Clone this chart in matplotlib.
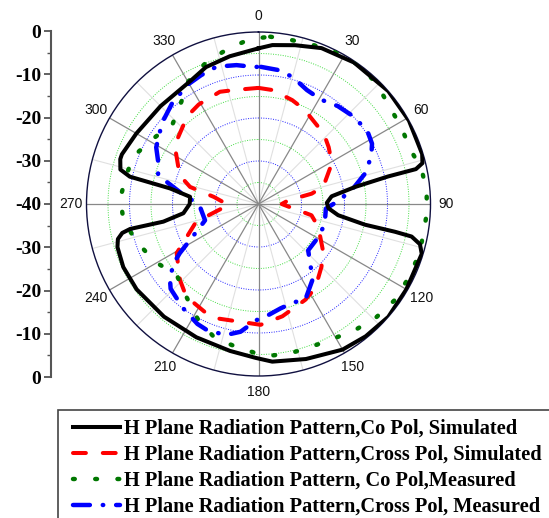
import numpy as np
import matplotlib
matplotlib.use("Agg")
import matplotlib.pyplot as plt
from matplotlib.patches import Rectangle

# ---------------- data (angle in degrees, level in dB) ----------------
co_sim_ang = [0, 5, 13, 22, 34, 49, 61, 73, 76, 77.5, 78, 80, 84, 89, 93.5, 98, 101, 101.5,
              102, 104, 107, 120, 131, 141, 150, 163, 175, 181, 191, 205, 220, 235, 245, 253,
              256, 258, 259, 259.5, 263, 270, 276, 280, 282, 284, 288, 290, 300, 315, 331, 339,
              349, 360]
co_sim_db = [-3.8, -2.9, -2.1, -0.9, -0.3, 0.0, 0.0, -0.2, -0.7, -2.5, -9.2, -17.2, -22.9,
             -24.1, -23.7, -21.3, -14.8, -7.6, -3.6, -1.3, -0.3, -0.3, 0.0, -0.4, -0.9, -2.3,
             -3.2, -4.2, -5.2, -5.8, -5.8, -5.4, -5.3, -5.7, -6.3, -7.6, -9.6, -17.5, -22.4,
             -24.0, -24.0, -19.1, -9.4, -6.9, -6.2, -6.2, -7.2, -7.8, -7.3, -5.9, -5.0, -3.8]

cross_sim_ang = [0, 7, 18, 26, 43, 51, 61, 75, 79, 83, 90, 95, 102, 111, 127, 135, 146, 154,
                 168, 179, 200, 206, 218, 226, 239, 253, 256, 268, 279, 284, 290, 305, 321,
                 329, 341, 348, 360]
cross_sim_db = [-13.0, -13.3, -14.6, -15.6, -17.7, -19.0, -20.5, -24.4, -27.4, -33.0, -34.6,
                -33.0, -27.4, -25.1, -21.1, -19.3, -16.4, -15.2, -13.3, -11.9, -11.7, -11.9,
                -12.7, -14.6, -17.8, -24.6, -27.0, -33.0, -29.5, -23.6, -20.5, -16.2, -13.7,
                -13.0, -12.4, -12.9, -13.0]

co_meas_ang = [4, 11, 19, 27, 35, 44, 53, 62, 70, 78, 86, 93, 101, 108, 116, 125, 134, 143,
               151, 160, 168, 176, 181, 189, 198, 208, 218, 229, 241, 253, 263, 272, 282,
               291, 302, 313, 323, 330, 340, 349, 357, 364]
co_meas_db = [-1.0, -1.1, -0.9, -0.4, -0.2, -0.7, -2.0, -2.3, -2.5, -1.2, -0.8, -0.8, -1.0,
              -0.9, -1.1, -1.2, -2.0, -3.1, -4.2, -4.6, -4.5, -4.6, -5.3, -6.4, -7.2, -9.8,
              -12.7, -14.8, -12.4, -10.3, -8.4, -7.8, -8.5, -8.9, -11.2, -12.7, -10.2, -7.2,
              -4.8, -3.2, -1.6, -1.0]

cross_meas_ang = [1, 8, 15, 23, 31, 39, 47, 56, 62, 67, 74, 80, 87, 94, 107, 119, 133, 139,
                  144, 154, 160, 168, 178, 181, 188, 194, 202, 207, 216, 226, 230, 235, 238,
                  245, 253, 267, 270, 277, 286, 292, 299, 310, 320, 330, 336, 343, 351, 358,
                  361]
cross_meas_db = [-8.1, -8.5, -9.4, -11.2, -11.7, -10.7, -10.0, -9.5, -10.1, -11.5, -14.2,
                 -17.4, -21.0, -24.3, -23.9, -24.1, -24.2, -21.7, -18.5, -15.2, -15.7, -15.2,
                 -13.4, -13.0, -10.0, -8.6, -8.3, -8.7, -10.1, -11.6, -13.1, -15.9, -18.4,
                 -23.7, -27.0, -26.4, -26.0, -22.4, -15.7, -14.9, -12.8, -10.7, -9.0, -7.7,
                 -7.2, -6.6, -7.3, -8.1, -8.1]

theta_ticks = [0, 30, 60, 90, 120, 150, 180, 210, 240, 270, 300, 330]
left_tick_labels = ['0', '-10', '-20', '-30', '-40', '-30', '-20', '-10', '0']
legend_labels = ['H Plane Radiation Pattern,Co Pol, Simulated',
                 'H Plane Radiation Pattern,Cross Pol, Simulated',
                 'H Plane Radiation Pattern, Co Pol,Measured',
                 'H Plane Radiation Pattern,Cross Pol, Measured']

# ---------------- figure ----------------
W, H = 549, 518
fig = plt.figure(figsize=(W / 100, H / 100), dpi=100)

cx, cy, R = 258.5, 204.0, 172.0
ax = fig.add_axes([(cx - R) / W, 1 - (cy + R) / H, 2 * R / W, 2 * R / H], projection='polar')
ax.set_theta_zero_location('N')
ax.set_theta_direction(-1)
ax.set_ylim(-40, 0)
ax.set_yticks([])
ax.grid(False)

full = np.linspace(0, 2 * np.pi, 721)
for r in [-35, -25, -15, -5]:
    ax.plot(full, np.full_like(full, r), color='#44dd44', lw=0.7, ls=(0, (1, 1.5)), zorder=1)
for r in [-30, -20, -10]:
    ax.plot(full, np.full_like(full, r), color='#2222ff', lw=0.7, ls=(0, (1, 1.5)), zorder=1)
for t in range(15, 360, 30):
    ax.plot([np.radians(t)] * 2, [-40, 0], color='#e0e0e0', lw=0.8, zorder=1)
for t in theta_ticks:
    ax.plot([np.radians(t)] * 2, [-40, 0], color='#888888', lw=0.9, zorder=1)

ax.set_xticks(np.radians(theta_ticks))
ax.set_xticklabels([])
ax.tick_params(axis='x', length=0)
ax.spines['polar'].set_color('#101040')
ax.spines['polar'].set_linewidth(1.0)

# angle labels centred ~16 px outside the rim
rl = 188.0 / (2 * R)
for t in theta_ticks:
    a = np.radians(t)
    ax.text(0.5 + rl * np.sin(a), 0.5 + rl * np.cos(a), str(t), transform=ax.transAxes,
            ha='center', va='center', fontsize=10, family='Liberation Sans', color='#111111')

rad = np.radians
l1, = ax.plot(rad(np.array(co_sim_ang)), co_sim_db, color='black', lw=2.9, zorder=5,
              solid_joinstyle='round')
l2, = ax.plot(rad(np.array(cross_sim_ang)), cross_sim_db, color='#ff0000', lw=2.9,
              ls=(0, (3.2, 4.2)), dash_capstyle='round', zorder=4)
l3, = ax.plot(rad(np.array(co_meas_ang)), co_meas_db, color='#007700', lw=3.2,
              ls=(0, (0.4, 4.6)), dash_capstyle='round', zorder=4)
l4, = ax.plot(rad(np.array(cross_meas_ang)), cross_meas_db, color='#0000ff', lw=3.2,
              ls=(0, (3.8, 2.9, 0.1, 2.9)), dash_capstyle='round', zorder=4)

# ---------------- left scale ----------------
ax2 = fig.add_axes([51 / W, 1 - 377 / H, 0.0001, 346 / H])
ax2.set_ylim(0, 80)
ax2.set_yticks(range(0, 81, 10))
ax2.set_yticklabels(left_tick_labels, fontsize=14, family='Liberation Serif', weight='bold')
ax2.set_yticks(range(5, 80, 10), minor=True)
ax2.set_xticks([])
for s in ['top', 'right', 'bottom']:
    ax2.spines[s].set_visible(False)
ax2.spines['left'].set_color('#555555')
ax2.spines['left'].set_linewidth(1.5)
ax2.tick_params(axis='y', which='major', length=5, width=1.3, color='#555555', pad=2)
ax2.tick_params(axis='y', which='minor', length=3, width=1.0, color='#555555')

# ---------------- legend ----------------
fig.add_artist(Rectangle((58 / W, -0.2), 1.0, 0.2 + (H - 410) / H, transform=fig.transFigure,
                         fill=False, edgecolor='#444444', lw=1.2))
leg = fig.legend([l1, l2, l3, l4], legend_labels, loc='upper left',
                 bbox_to_anchor=(73 / W, 1 - 419 / H), frameon=False,
                 prop={'family': 'Liberation Serif', 'weight': 'bold', 'size': 14.7},
                 handlelength=2.3, handletextpad=0.2, labelspacing=0.29,
                 borderpad=0, borderaxespad=0)

fig.savefig('out.png', dpi=100)
